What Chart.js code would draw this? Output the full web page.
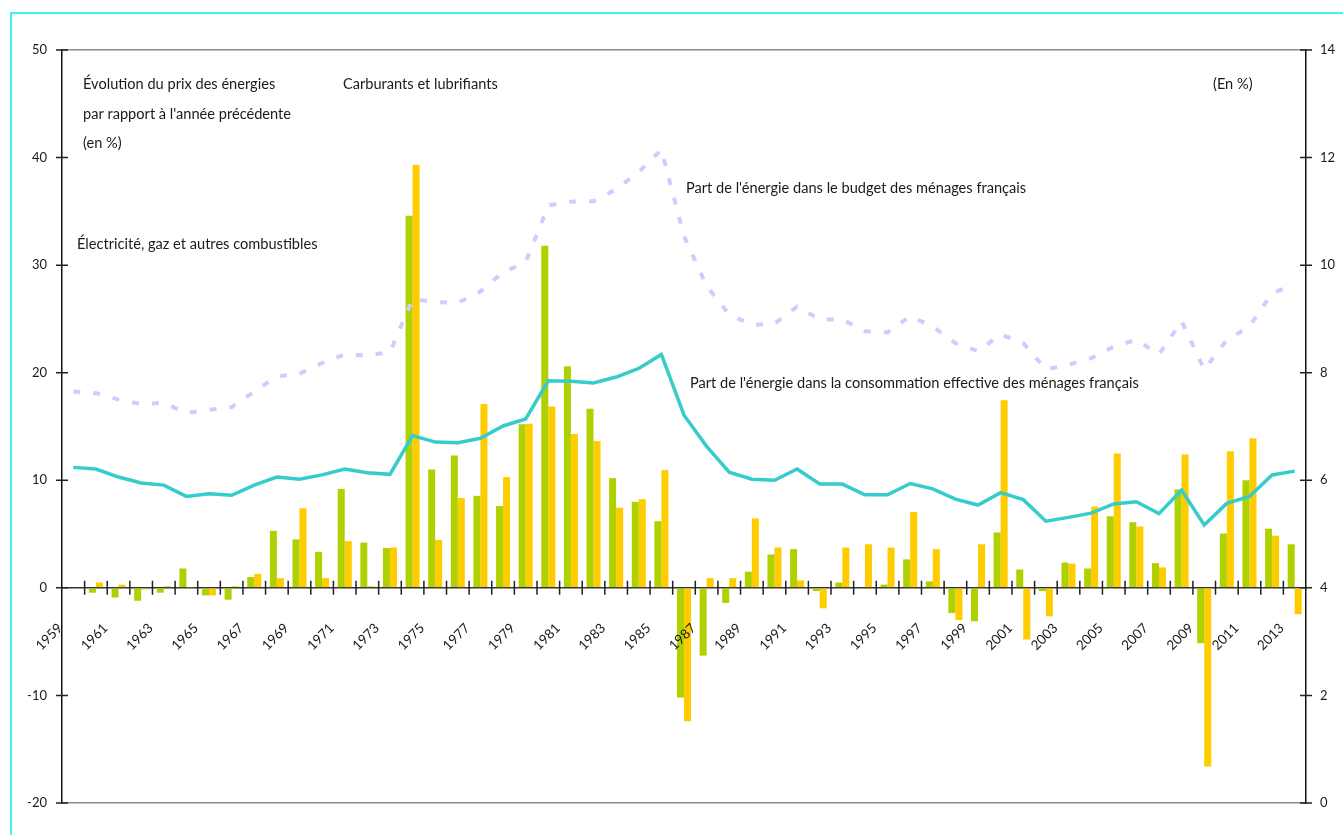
<!DOCTYPE html>
<html>
<head>
<meta charset="utf-8">
<script src="https://cdn.jsdelivr.net/npm/chart.js@4.4.1/dist/chart.umd.min.js"></script>
<style>
  html, body { margin: 0; padding: 0; background: #fff; }
  #wrap { width: 1343px; height: 835px; }
</style>
</head>
<body>
<div id="wrap"><canvas id="energie" width="1343" height="835"></canvas></div>
<script>
// années 1959 - 2013
const years = ['1959','1960','1961','1962','1963','1964','1965','1966','1967','1968',
  '1969','1970','1971','1972','1973','1974','1975','1976','1977','1978',
  '1979','1980','1981','1982','1983','1984','1985','1986','1987','1988',
  '1989','1990','1991','1992','1993','1994','1995','1996','1997','1998',
  '1999','2000','2001','2002','2003','2004','2005','2006','2007','2008',
  '2009','2010','2011','2012','2013'];

// évolution des prix par rapport à l'année précédente (en %)
const elecGaz = [null, -0.45, -0.9, -1.2, -0.45, 1.8, -0.7, -1.1, 1.0, 5.3,
  4.5, 3.35, 9.2, 4.2, 3.7, 34.6, 11.0, 12.3, 8.55, 7.6,
  15.2, 31.8, 20.6, 16.65, 10.2, 8.0, 6.2, -10.2, -6.3, -1.4,
  1.5, 3.1, 3.6, -0.3, 0.5, 0, 0.3, 2.65, 0.6, -2.35,
  -3.1, 5.15, 1.7, -0.3, 2.35, 1.8, 6.65, 6.1, 2.3, 9.15,
  -5.15, 5.05, 10.0, 5.5, 4.05];
const carburants = [null, 0.5, 0.3, -0.15, 0.15, 0.05, -0.7, 0.15, 1.3, 0.9,
  7.4, 0.9, 4.35, 0.15, 3.75, 39.3, 4.45, 8.35, 17.1, 10.3,
  15.25, 16.85, 14.3, 13.65, 7.45, 8.25, 10.95, -12.4, 0.9, 0.9,
  6.45, 3.75, 0.7, -1.9, 3.75, 4.05, 3.75, 7.05, 3.6, -3.0,
  4.05, 17.45, -4.8, -2.65, 2.25, 7.55, 12.5, 5.7, 1.9, 12.4,
  -16.6, 12.7, 13.9, 4.85, -2.45];

// part de l'énergie (en %), axe de droite
const partBudget = [7.65, 7.62, 7.50, 7.42, 7.44, 7.25, 7.31, 7.36, 7.65, 7.93,
  7.98, 8.18, 8.34, 8.32, 8.38, 9.37, 9.31, 9.30, 9.51, 9.87,
  10.05, 11.11, 11.18, 11.19, 11.41, 11.73, 12.15, 10.54, 9.61, 9.08,
  8.89, 8.91, 9.23, 8.99, 8.99, 8.77, 8.75, 9.05, 8.86, 8.55,
  8.40, 8.71, 8.55, 8.06, 8.15, 8.27, 8.49, 8.61, 8.34, 8.96,
  8.06, 8.61, 8.86, 9.48, 9.64];
const partConso = [6.24, 6.21, 6.06, 5.95, 5.91, 5.70, 5.75, 5.72, 5.91, 6.06,
  6.02, 6.10, 6.21, 6.14, 6.11, 6.83, 6.71, 6.70, 6.78, 7.01,
  7.14, 7.85, 7.84, 7.81, 7.92, 8.08, 8.34, 7.21, 6.63, 6.15,
  6.02, 6.00, 6.21, 5.93, 5.93, 5.73, 5.73, 5.94, 5.84, 5.65,
  5.54, 5.77, 5.64, 5.24, 5.31, 5.39, 5.56, 5.60, 5.38, 5.82,
  5.17, 5.57, 5.70, 6.10, 6.17];

const FONT = 'Lato';
const TXT = '#1a1a1a';

// cadre cyan
const frame = {
  id: 'frame',
  beforeDraw(chart) {
    const c = chart.ctx;
    c.save();
    c.fillStyle = '#fff';
    c.fillRect(0, 0, chart.width, chart.height);
    c.strokeStyle = '#3ef2f2';
    c.lineWidth = 2;
    c.beginPath();
    c.moveTo(11, chart.height);
    c.lineTo(11, 13);
    c.lineTo(chart.width, 13);
    c.stroke();
    c.restore();
  }
};

// graduations qui traversent les axes + années inclinées
const crossTicks = {
  id: 'crossTicks',
  afterDraw(chart) {
    const { ctx, chartArea, scales: { x, y, y2 } } = chart;
    ctx.save();
    ctx.strokeStyle = '#222';
    ctx.lineWidth = 1.5;
    ctx.beginPath();
    y.ticks.forEach(t => {
      const p = y.getPixelForValue(t.value);
      ctx.moveTo(chartArea.left - 6, p); ctx.lineTo(chartArea.left + 6, p);
    });
    y2.ticks.forEach(t => {
      const p = y2.getPixelForValue(t.value);
      ctx.moveTo(chartArea.right - 6, p); ctx.lineTo(chartArea.right + 6, p);
    });
    const zero = y.getPixelForValue(0);
    const half = (x.getPixelForValue(1) - x.getPixelForValue(0)) / 2;
    for (let i = 1; i < years.length; i++) {
      const px = x.getPixelForValue(i) - half;
      ctx.moveTo(px, zero - 7); ctx.lineTo(px, zero + 7);
    }
    ctx.stroke();

    ctx.fillStyle = TXT;
    ctx.font = '13.5px ' + FONT;
    ctx.textAlign = 'right';
    ctx.textBaseline = 'middle';
    years.forEach((yr, i) => {
      if (i % 2) return;
      ctx.save();
      ctx.translate(x.getPixelForValue(i) - 13, zero + 38);
      ctx.rotate(-Math.PI / 4);
      ctx.fillText(yr, 0, 0);
      ctx.restore();
    });
    ctx.restore();
  }
};

// textes dans le graphique
const notes = {
  id: 'notes',
  afterDraw(chart) {
    const c = chart.ctx;
    c.save();
    c.fillStyle = TXT;
    c.font = '14.6px ' + FONT;
    c.textBaseline = 'alphabetic';
    c.fillText('Évolution du prix des énergies', 83, 89);
    c.fillText("par rapport à l'année précédente", 83, 119);
    c.fillText('(en %)', 83, 148);
    c.fillText('Carburants et lubrifiants', 343, 89);
    c.fillText('(En %)', 1213, 89);
    c.fillText('Électricité, gaz et autres combustibles', 77, 249);
    c.fillText("Part de l'énergie dans le budget des ménages français", 686, 193);
    c.fillText("Part de l'énergie dans la consommation effective des ménages français", 690, 388);
    c.restore();
  }
};

new Chart(document.getElementById('energie'), {
  type: 'bar',
  data: {
    labels: years,
    datasets: [
      {
        type: 'line', label: "Part de l'énergie dans le budget des ménages français",
        data: partBudget, yAxisID: 'y2', borderColor: '#cdcdff', borderWidth: 4,
        borderDash: [7, 13], pointRadius: 0, tension: 0, order: 0
      },
      {
        type: 'line', label: "Part de l'énergie dans la consommation effective des ménages français",
        data: partConso, yAxisID: 'y2', borderColor: '#36cccc', borderWidth: 3.5,
        pointRadius: 0, tension: 0, order: 0
      },
      {
        label: 'Électricité, gaz et autres combustibles', data: elecGaz, yAxisID: 'y',
        backgroundColor: '#b0d000', barPercentage: 1, categoryPercentage: 0.62, order: 1
      },
      {
        label: 'Carburants et lubrifiants', data: carburants, yAxisID: 'y',
        backgroundColor: '#ffcc00', barPercentage: 1, categoryPercentage: 0.62, order: 1
      }
    ]
  },
  options: {
    responsive: false,
    animation: false,
    devicePixelRatio: 1,
    layout: { padding: { top: 50, bottom: 32, left: 0, right: 0 } },
    plugins: { legend: { display: false }, tooltip: { enabled: false } },
    scales: {
      x: {
        position: { y: 0 },
        offset: true,
        grid: { display: true, drawOnChartArea: false, drawTicks: false },
        border: { color: '#333', width: 1.5 },
        ticks: { display: false },
        afterFit: s => { s.height = 0; }
      },
      y: {
        position: 'left', min: -20, max: 50,
        ticks: { stepSize: 10, padding: 15, color: TXT, font: { family: FONT, size: 13 } },
        grid: {
          drawTicks: false, lineWidth: 1.5,
          color: c => (c.tick && (c.tick.value === 50 || c.tick.value === -20)) ? '#8a8a8a' : 'rgba(0,0,0,0)'
        },
        border: { color: '#111', width: 1.5 },
        afterFit: s => { s.width = 62; }
      },
      y2: {
        position: 'right', min: 0, max: 14,
        ticks: { stepSize: 2, padding: 14, color: TXT, font: { family: FONT, size: 13 } },
        grid: { drawOnChartArea: false, drawTicks: false },
        border: { color: '#111', width: 1.5 },
        afterFit: s => { s.width = 37; }
      }
    }
  },
  plugins: [frame, crossTicks, notes]
});
</script>
</body>
</html>
